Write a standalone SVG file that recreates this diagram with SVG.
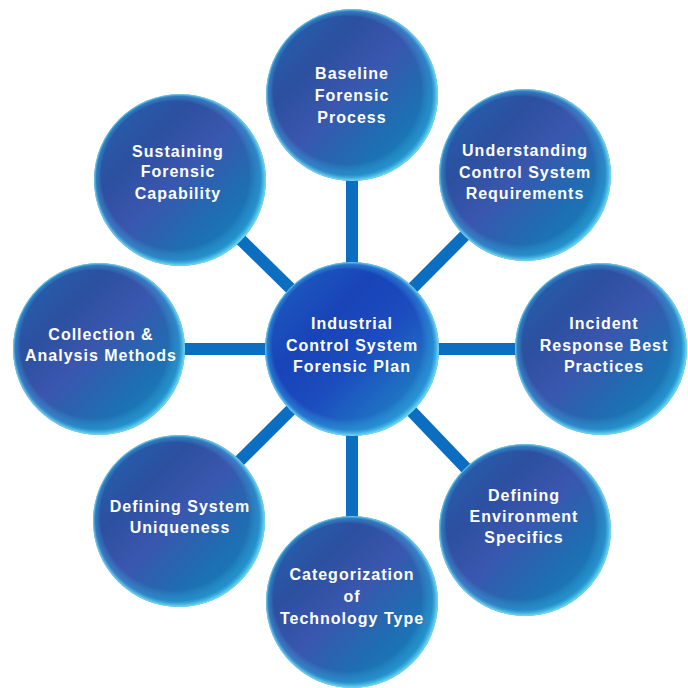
<svg xmlns="http://www.w3.org/2000/svg" width="688" height="688" viewBox="0 0 688 688">
<defs>
<linearGradient id="gOuter" x1="0" y1="0" x2="1" y2="1">
<stop offset="0" stop-color="#2266b6"/>
<stop offset="0.3" stop-color="#2c509f"/>
<stop offset="0.48" stop-color="#3a56ae"/>
<stop offset="0.7" stop-color="#1f6db2"/>
<stop offset="1" stop-color="#0c8cc4"/>
</linearGradient>
<linearGradient id="gCenter" x1="0" y1="0" x2="1" y2="1">
<stop offset="0" stop-color="#1f62c0"/>
<stop offset="0.35" stop-color="#1844b8"/>
<stop offset="0.55" stop-color="#1c4cbf"/>
<stop offset="0.8" stop-color="#1e78c4"/>
<stop offset="1" stop-color="#1a96d0"/>
</linearGradient>
<radialGradient id="gRim" cx="0.5" cy="0.5" r="0.5" fx="0.3" fy="0.3">
<stop offset="0.86" stop-color="#5fe3ff" stop-opacity="0"/>
<stop offset="0.95" stop-color="#36bdee" stop-opacity="0.35"/>
<stop offset="1" stop-color="#8af2ff" stop-opacity="0.85"/>
</radialGradient>
</defs>
<style>
.conn line { stroke: #0b6ec0; stroke-width: 12; }
.body { fill: url(#gOuter); }
.cbody { fill: url(#gCenter); }
.rim { fill: url(#gRim); }
text { font-family: "Liberation Sans", Arial, sans-serif; font-weight: bold; font-size: 16px; letter-spacing: 1px; fill: #ffffff; text-anchor: middle; }
</style>
<rect width="688" height="688" fill="#ffffff"/>
<g id="connectors" class="conn">
<line x1="352" y1="349" x2="352" y2="95"/>
<line x1="352" y1="349" x2="525" y2="175"/>
<line x1="352" y1="349" x2="601" y2="349"/>
<line x1="352" y1="349" x2="525" y2="530"/>
<line x1="352" y1="349" x2="352" y2="602"/>
<line x1="352" y1="349" x2="179" y2="521"/>
<line x1="352" y1="349" x2="99" y2="349"/>
<line x1="352" y1="349" x2="180" y2="180"/>
</g>
<g id="node-baseline">
<circle class="body" cx="352" cy="95" r="86"/>
<circle class="rim" cx="352" cy="95" r="86"/>
<text x="352" y="79">Baseline</text>
<text x="352" y="101">Forensic</text>
<text x="352" y="123">Process</text>
</g>
<g id="node-understanding">
<circle class="body" cx="525" cy="175" r="86"/>
<circle class="rim" cx="525" cy="175" r="86"/>
<text x="525" y="156">Understanding</text>
<text x="525" y="178">Control System</text>
<text x="525" y="199">Requirements</text>
</g>
<g id="node-incident">
<circle class="body" cx="601" cy="349" r="86"/>
<circle class="rim" cx="601" cy="349" r="86"/>
<text x="604" y="329">Incident</text>
<text x="604" y="351">Response Best</text>
<text x="604" y="372">Practices</text>
</g>
<g id="node-environment">
<circle class="body" cx="525" cy="530" r="86"/>
<circle class="rim" cx="525" cy="530" r="86"/>
<text x="524" y="501">Defining</text>
<text x="524" y="522">Environment</text>
<text x="524" y="543">Specifics</text>
</g>
<g id="node-categorization">
<circle class="body" cx="352" cy="602" r="86"/>
<circle class="rim" cx="352" cy="602" r="86"/>
<text x="352" y="580">Categorization</text>
<text x="352" y="602">of</text>
<text x="352" y="624">Technology Type</text>
</g>
<g id="node-uniqueness">
<circle class="body" cx="179" cy="521" r="86"/>
<circle class="rim" cx="179" cy="521" r="86"/>
<text x="180" y="512">Defining System</text>
<text x="180" y="533">Uniqueness</text>
</g>
<g id="node-collection">
<circle class="body" cx="99" cy="349" r="86"/>
<circle class="rim" cx="99" cy="349" r="86"/>
<text x="101" y="340">Collection &amp;</text>
<text x="101" y="361">Analysis Methods</text>
</g>
<g id="node-sustaining">
<circle class="body" cx="180" cy="180" r="86"/>
<circle class="rim" cx="180" cy="180" r="86"/>
<text x="178" y="157">Sustaining</text>
<text x="178" y="177">Forensic</text>
<text x="178" y="199">Capability</text>
</g>
<g id="node-center">
<circle class="cbody" cx="352" cy="349" r="87"/>
<circle class="rim" cx="352" cy="349" r="87"/>
<text x="352" y="329">Industrial</text>
<text x="352" y="351">Control System</text>
<text x="352" y="372">Forensic Plan</text>
</g>
</svg>
